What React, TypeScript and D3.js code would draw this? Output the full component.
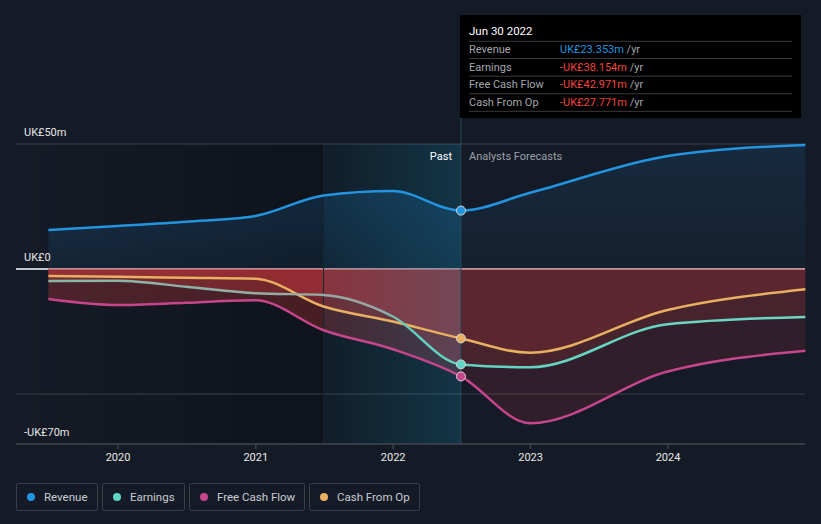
import React from "react";
import * as d3 from "d3";

const pastDates = ["2019-06-30", "2019-12-31", "2020-06-30", "2020-12-31", "2021-06-30", "2021-12-31", "2022-06-30"];
const forecastDates = ["2022-12-31", "2023-12-31", "2024-12-31"];

const revenuePast = [15.6, 17.2, 18.9, 21.2, 29.4, 31.2, 23.353];
const revenueForecast = [30.5, 45.2, 49.6];
const earningsPast = [-4.8, -4.7, -7.1, -9.7, -10.4, -19, -38.154];
const earningsForecast = [-39.3, -22.1, -19.2];
const fcfPast = [-12, -14.4, -13.5, -12.5, -24.5, -32.1, -42.971];
const fcfForecast = [-61.7, -41, -32.7];
const cfoPast = [-2.8, -3.1, -3.5, -3.9, -15, -21, -27.771];
const cfoForecast = [-33.5, -16.4, -8.1];

const yearTicks = ["2020", "2021", "2022", "2023", "2024"];
const yLabels = [
  { v: 50, t: "UK£50m" },
  { v: 0, t: "UK£0" },
  { v: -70, t: "-UK£70m" },
];
const gridValues = [50, -50, -70];

const seriesNames = ["Revenue", "Earnings", "Free Cash Flow", "Cash From Op"];
const seriesColors = ["#2394df", "#5fd6c4", "#c6458c", "#e8b061"];
const tooltipValues = ["UK£23.353m", "-UK£38.154m", "-UK£42.971m", "-UK£27.771m"];

const W = 821;
const H = 524;
const parse = d3.timeParse("%Y-%m-%d");

export default function App() {
  const x = d3.scaleTime().domain([new Date(2020, 0, 1), new Date(2024, 0, 1)]).range([118, 668]);
  const y = d3.scaleLinear().domain([-70, 50]).range([444, 144]);
  const dates = [...pastDates, ...forecastDates].map((d) => parse(d) as Date);
  const mk = (p: number[], f: number[]) => [...p, ...f].map((v, i) => ({ d: dates[i], v }));
  const series = [
    mk(revenuePast, revenueForecast),
    mk(earningsPast, earningsForecast),
    mk(fcfPast, fcfForecast),
    mk(cfoPast, cfoForecast),
  ];
  const line = d3
    .line<{ d: Date; v: number }>()
    .x((p) => x(p.d))
    .y((p) => y(p.v))
    .curve(d3.curveMonotoneX);
  const area = d3
    .area<{ d: Date; v: number }>()
    .x((p) => x(p.d))
    .y0(y(0))
    .y1((p) => y(p.v))
    .curve(d3.curveMonotoneX);

  const nowX = x(parse("2022-06-30") as Date);
  const bandX = x(parse("2021-06-30") as Date);
  const startX = x(dates[0]);
  const endX = x(dates[dates.length - 1]);
  const left = 16;
  const right = 805;
  const top = y(50);
  const bottom = y(-70);
  const font = "Roboto, 'Open Sans', sans-serif";

  const legendBoxes = [
    { x: 16, w: 81 },
    { x: 102, w: 82 },
    { x: 189, w: 115 },
    { x: 309, w: 110 },
  ];

  return (
    <svg width={W} height={H} style={{ position: "absolute", left: 0, top: 0, background: "#151b26" }}>
      <defs>
        <linearGradient id="pastDark" x1={left} x2={nowX} y1={0} y2={0} gradientUnits="userSpaceOnUse">
          <stop offset="0" stopColor="#000" stopOpacity={0} />
          <stop offset="0.65" stopColor="#000" stopOpacity={0.3} />
          <stop offset="1" stopColor="#000" stopOpacity={0.3} />
        </linearGradient>
        <linearGradient id="band" x1={bandX} x2={nowX} y1={0} y2={0} gradientUnits="userSpaceOnUse">
          <stop offset="0" stopColor="#1e96c3" stopOpacity={0.08} />
          <stop offset="1" stopColor="#1e96c3" stopOpacity={0.26} />
        </linearGradient>
        <linearGradient id="revPast" x1={0} x2={0} y1={top} y2={y(0)} gradientUnits="userSpaceOnUse">
          <stop offset="0" stopColor="#2196f3" stopOpacity={0.22} />
          <stop offset="1" stopColor="#2196f3" stopOpacity={0.08} />
        </linearGradient>
        <linearGradient id="revFut" x1={0} x2={0} y1={top} y2={y(0)} gradientUnits="userSpaceOnUse">
          <stop offset="0" stopColor="#2196f3" stopOpacity={0.12} />
          <stop offset="1" stopColor="#2196f3" stopOpacity={0.04} />
        </linearGradient>
        <linearGradient id="earnStroke" x1={startX} x2={endX} y1={0} y2={0} gradientUnits="userSpaceOnUse">
          <stop offset={0} stopColor="#86b9a8" />
          <stop offset={(300 - startX) / (endX - startX)} stopColor="#93aca4" />
          <stop offset={(372 - startX) / (endX - startX)} stopColor="#9aa3a2" />
          <stop offset={(415 - startX) / (endX - startX)} stopColor="#5fd3c0" />
          <stop offset={1} stopColor="#6fd6c4" />
        </linearGradient>
        <clipPath id="clipPast">
          <rect x={0} y={0} width={nowX} height={H} />
        </clipPath>
        <clipPath id="clipFut">
          <rect x={nowX} y={0} width={W - nowX} height={H} />
        </clipPath>
      </defs>

      <rect x={0} y={0} width={W} height={H} fill="#151b26" />
      <rect x={left} y={top} width={nowX - left} height={bottom - top} fill="url(#pastDark)" />

      {gridValues.map((g) => (
        <line key={g} x1={left} x2={right} y1={y(g)} y2={y(g)} stroke="#3a3f48" strokeWidth={1} />
      ))}
      <line x1={left} x2={startX} y1={y(0)} y2={y(0)} stroke="#ffffff" strokeWidth={1.5} />
      <line x1={startX} x2={right} y1={y(0)} y2={y(0)} stroke="#e9c3c3" strokeWidth={1.5} />

      <g clipPath="url(#clipPast)">
        <path d={area(series[0]) || ""} fill="url(#revPast)" />
        {[1, 2, 3].map((i) => (
          <path key={i} d={area(series[i]) || ""} fill="#e64042" fillOpacity={0.27} />
        ))}
      </g>
      <g clipPath="url(#clipFut)">
        <path d={area(series[0]) || ""} fill="url(#revFut)" />
        {[1, 2, 3].map((i) => (
          <path key={i} d={area(series[i]) || ""} fill="#e64042" fillOpacity={0.13} />
        ))}
      </g>

      <rect x={bandX} y={top} width={nowX - bandX} height={bottom - top} fill="url(#band)" />
      <line x1={bandX} x2={bandX} y1={top} y2={bottom} stroke="#18262f" strokeWidth={1} />
      <line x1={nowX} x2={nowX} y1={118} y2={bottom} stroke="#23495a" strokeWidth={1} />

      <line x1={left} x2={right} y1={bottom} y2={bottom} stroke="#3c414a" strokeWidth={1.5} />
      {yearTicks.map((t) => {
        const xx = x(new Date(+t, 0, 1));
        return (
          <g key={t}>
            <line x1={xx} x2={xx} y1={bottom} y2={bottom + 5} stroke="#3c414a" strokeWidth={1.5} />
            <text x={xx} y={461} textAnchor="middle" fill="#e8e8e8" fontSize={11} fontFamily={font}>
              {t}
            </text>
          </g>
        );
      })}

      {[0, 3, 2, 1].map((i) => (
        <path
          key={i}
          d={line(series[i]) || ""}
          fill="none"
          stroke={i === 1 ? "url(#earnStroke)" : seriesColors[i]}
          strokeWidth={2.5}
        />
      ))}
      {[0, 1, 2, 3].map((i) => (
        <circle
          key={i}
          cx={nowX}
          cy={y(series[i][6].v)}
          r={4.5}
          fill={seriesColors[i]}
          stroke="#d8d8d8"
          strokeWidth={1}
        />
      ))}

      {yLabels.map((l) => (
        <text key={l.t} x={24} y={y(l.v) - 8} fill="#e6e6e6" fontSize={11} fontFamily={font}>
          {l.t}
        </text>
      ))}

      <text x={452} y={160} textAnchor="end" fill="#ffffff" fontSize={11} fontFamily={font}>
        Past
      </text>
      <text x={469} y={160} fill="#9aa0a8" fontSize={11} fontFamily={font}>
        Analysts Forecasts
      </text>

      <rect x={460} y={15} width={341} height={103} fill="#000000" />
      <text x={469} y={35} fill="#ffffff" fontSize={11.5} fontFamily={font}>
        Jun 30 2022
      </text>
      {[41.3, 58.5, 76.2, 93.8, 111.3].map((ly) => (
        <line key={ly} x1={469} x2={792} y1={ly} y2={ly} stroke="#3a3a3a" strokeWidth={1} />
      ))}
      {seriesNames.map((n, i) => {
        const ry = 53 + i * 17.5;
        const val = tooltipValues[i];
        return (
          <g key={n}>
            <text x={469} y={ry} fill="#a3a7ad" fontSize={11} fontFamily={font}>
              {n}
            </text>
            <text x={560} y={ry} fontSize={11} fontFamily={font}>
              <tspan fill={i === 0 ? "#2394df" : "#f0443c"}>{val}</tspan>
              <tspan fill="#a3a7ad"> /yr</tspan>
            </text>
          </g>
        );
      })}

      {seriesNames.map((n, i) => (
        <g key={n}>
          <rect
            x={legendBoxes[i].x + 0.5}
            y={483.5}
            width={legendBoxes[i].w}
            height={27}
            rx={2}
            fill="none"
            stroke="#3a3f48"
            strokeWidth={1}
          />
          <circle cx={legendBoxes[i].x + 15} cy={497} r={4} fill={seriesColors[i]} />
          <text x={legendBoxes[i].x + 28} y={501} fill="#c8ccd2" fontSize={11.5} fontFamily={font}>
            {n}
          </text>
        </g>
      ))}
    </svg>
  );
}
